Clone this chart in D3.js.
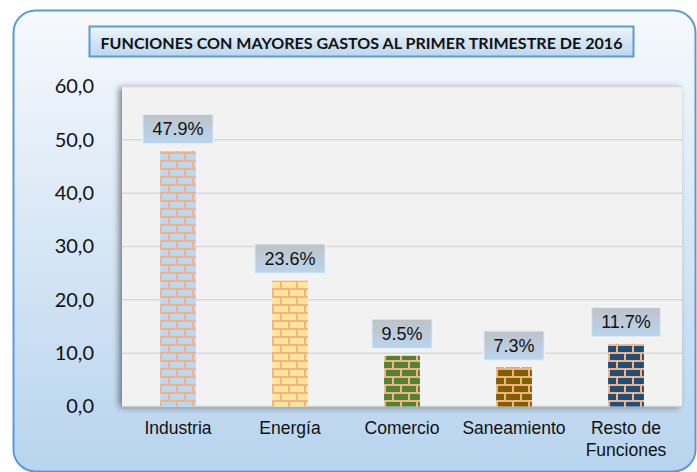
<!DOCTYPE html>
<html>
<head>
<meta charset="utf-8">
<script src="https://cdn.jsdelivr.net/npm/d3@7"></script>
<style>
  html, body { margin: 0; padding: 0; background: #fff; }
  svg { display: block; }
</style>
</head>
<body>
<svg id="chart"></svg>
<script>
// data
const categories = ["Industria", "Energía", "Comercio", "Saneamiento", "Resto de|Funciones"];
const values = [47.9, 23.6, 9.5, 7.3, 11.7];
const brickColors = ["#bdd7ee", "#ffe699", "#548235", "#7f6000", "#1f4e79"];
const yTicks = [0, 10, 20, 30, 40, 50, 60];
const title = "FUNCIONES CON MAYORES GASTOS AL PRIMER TRIMESTRE DE 2016";

const W = 697, H = 472;
const plot = {left: 122, right: 682, top: 86.5, bottom: 406.5};

const svg = d3.select("#chart").attr("width", W).attr("height", H);
const defs = svg.append("defs");

// card gradient
const cardGrad = defs.append("linearGradient").attr("id", "cardGrad")
  .attr("x1", 0).attr("y1", 0).attr("x2", 0).attr("y2", 1);
cardGrad.append("stop").attr("offset", "0%").attr("stop-color", "#f6f9fd");
cardGrad.append("stop").attr("offset", "100%").attr("stop-color", "#b8d4ee");

const titleGrad = defs.append("linearGradient").attr("id", "titleGrad")
  .attr("x1", 0).attr("y1", 0).attr("x2", 0).attr("y2", 1);
titleGrad.append("stop").attr("offset", "0%").attr("stop-color", "#eef4fb");
titleGrad.append("stop").attr("offset", "100%").attr("stop-color", "#bcd6ef");

const labGrad = defs.append("linearGradient").attr("id", "labGrad")
  .attr("x1", 0).attr("y1", 0).attr("x2", 0).attr("y2", 1);
labGrad.append("stop").attr("offset", "0%").attr("stop-color", "#bfc2c6");
labGrad.append("stop").attr("offset", "100%").attr("stop-color", "#b9d5ef");

const shadow = defs.append("filter").attr("id", "shadow")
  .attr("x", "-5%").attr("y", "-5%").attr("width", "110%").attr("height", "110%");
shadow.append("feDropShadow").attr("dx", -3).attr("dy", 1)
  .attr("stdDeviation", 3).attr("flood-color", "#000").attr("flood-opacity", 0.45);

// brick patterns, one per colour
brickColors.forEach((c, i) => {
  const p = defs.append("pattern").attr("id", "brick" + i)
    .attr("patternUnits", "userSpaceOnUse")
    .attr("width", 16).attr("height", 16);
  p.append("rect").attr("width", 16).attr("height", 16).attr("fill", "#f4b183");
  p.append("rect").attr("x", 2).attr("y", 2).attr("width", 14).attr("height", 6).attr("fill", c);
  p.append("rect").attr("x", 10).attr("y", 10).attr("width", 14).attr("height", 6).attr("fill", c);
  p.append("rect").attr("x", -6).attr("y", 10).attr("width", 14).attr("height", 6).attr("fill", c);
});

// card
svg.append("rect")
  .attr("x", 13.5).attr("y", 10.5).attr("width", 682).attr("height", 461)
  .attr("rx", 22).attr("fill", "url(#cardGrad)")
  .attr("stroke", "#5b9bd5").attr("stroke-width", 2);

// title box
svg.append("rect")
  .attr("x", 89.5).attr("y", 26.5).attr("width", 544).attr("height", 30)
  .attr("fill", "url(#titleGrad)").attr("stroke", "#5b9bd5").attr("stroke-width", 2);
svg.append("text")
  .attr("x", 361.5).attr("y", 42).attr("text-anchor", "middle")
  .attr("dominant-baseline", "central")
  .attr("font-family", "Lato, 'Open Sans', sans-serif").attr("font-weight", 700)
  .attr("font-size", 16).attr("fill", "#111")
  .attr("textLength", 522).attr("lengthAdjust", "spacingAndGlyphs")
  .text(title);

// scales
const x = d3.scaleBand().domain(categories).range([plot.left, plot.right]).paddingInner(0.68).paddingOuter(0.34);
const y = d3.scaleLinear().domain([0, 60]).range([plot.bottom, plot.top]);

// plot area
svg.append("rect")
  .attr("x", plot.left).attr("y", plot.top)
  .attr("width", plot.right - plot.left).attr("height", plot.bottom - plot.top)
  .attr("fill", "#f2f2f2").attr("filter", "url(#shadow)");

// gridlines
svg.append("g").selectAll("line").data(yTicks.slice(1)).join("line")
  .attr("x1", plot.left).attr("x2", plot.right)
  .attr("y1", d => y(d)).attr("y2", d => y(d))
  .attr("stroke", "#d9d9d9").attr("stroke-width", 1.5);
svg.append("line")
  .attr("x1", plot.left).attr("x2", plot.right)
  .attr("y1", y(0)).attr("y2", y(0))
  .attr("stroke", "#d0d0d0").attr("stroke-width", 1.5);

// y axis labels
const yAxis = svg.append("g")
  .attr("transform", `translate(${plot.left},0)`)
  .call(d3.axisLeft(y).tickValues(yTicks).tickSize(0).tickPadding(28)
    .tickFormat(d => d3.format(".1f")(d).replace(".", ",")));
yAxis.select(".domain").remove();
yAxis.selectAll("text")
  .attr("font-family", "Lato, 'Open Sans', sans-serif").attr("font-size", 20).attr("fill", "#111");

// bars
svg.append("g").selectAll("rect").data(values).join("rect")
  .attr("x", (d, i) => x(categories[i]))
  .attr("y", d => y(d))
  .attr("width", x.bandwidth())
  .attr("height", d => y(0) - y(d))
  .attr("fill", (d, i) => `url(#brick${i})`);

// x labels
const xl = svg.append("g").selectAll("text").data(categories).join("text")
  .attr("x", d => x(d) + x.bandwidth() / 2)
  .attr("y", 434)
  .attr("text-anchor", "middle")
  .attr("font-family", "'Liberation Sans', Arial, sans-serif")
  .attr("font-size", 17.5).attr("fill", "#111");
xl.each(function(d) {
  const parts = d.split("|");
  d3.select(this).selectAll("tspan").data(parts).join("tspan")
    .attr("x", x(d) + x.bandwidth() / 2)
    .attr("dy", (p, j) => j === 0 ? 0 : 22)
    .text(p => p);
});

// data labels
const labels = svg.append("g").selectAll("g").data(values).join("g")
  .attr("transform", (d, i) => `translate(${x(categories[i]) + x.bandwidth() / 2},${y(d) - 22})`);
labels.each(function(d) {
  const g = d3.select(this);
  const t = g.append("text")
    .attr("text-anchor", "middle").attr("dominant-baseline", "central")
    .attr("font-family", "'Liberation Sans', Arial, sans-serif")
    .attr("font-size", 18).attr("fill", "#111")
    .text(d3.format(".1f")(d) + "%");
  const w = t.node().getComputedTextLength() + 20;
  g.insert("rect", "text")
    .attr("x", -w / 2).attr("y", -15).attr("width", w).attr("height", 30)
    .attr("fill", "url(#labGrad)")
    .attr("stroke", "#eef4fa").attr("stroke-opacity", 0.8).attr("stroke-width", 2);
});
</script>
</body>
</html>
